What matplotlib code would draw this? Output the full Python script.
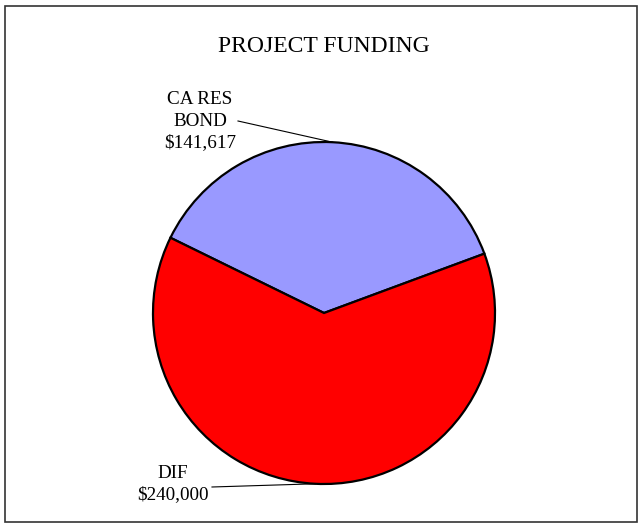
import matplotlib.pyplot as plt
import numpy as np
from matplotlib.patches import Rectangle

# data
categories = ["CA RES\nBOND", "DIF"]
amounts = [141617, 240000]
colors = ["#9999FF", "#FF0000"]

plt.rcParams['font.family'] = ['Liberation Serif', 'DejaVu Serif']

W, H = 638, 523
fig = plt.figure(figsize=(W / 100, H / 100), dpi=100)
ax = fig.add_axes([0, 0, 1, 1])

cx, cy, r = 324, H - 313, 171
wedges, _ = ax.pie(
    amounts,
    colors=colors,
    startangle=20.3,
    center=(cx, cy),
    radius=r,
    frame=True,
    wedgeprops=dict(edgecolor='black', linewidth=1.6),
)
ax.set_xlim(0, W)
ax.set_ylim(0, H)
ax.set_aspect('equal')
ax.axis('off')

# label text positions (pixels from top-left) and where the leader starts
label_pos = [(200, 121), (173, 484)]
leader_start = [(238, 121), (212, 487)]

for w, name, amt, (lx, ly), (sx, sy) in zip(wedges, categories, amounts, label_pos, leader_start):
    mid = np.deg2rad((w.theta1 + w.theta2) / 2)
    ex, ey = cx + r * np.cos(mid), cy + r * np.sin(mid)
    ax.plot([sx, ex], [H - sy, ey], color='black', linewidth=0.8)
    ax.text(lx, H - ly, f"{name}\n${amt:,}", ha='center', va='center',
            fontsize=13.8, linespacing=1.32)

ax.text(W / 2 + 5, H - 47, "PROJECT FUNDING", ha='center', va='center', fontsize=17)

fig.patches.append(Rectangle((5 / W, 1 / H), 1 - 6 / W, 1 - 7 / H, transform=fig.transFigure,
                             fill=False, edgecolor='#333333', linewidth=1.2))

fig.savefig("out.png", dpi=100)
